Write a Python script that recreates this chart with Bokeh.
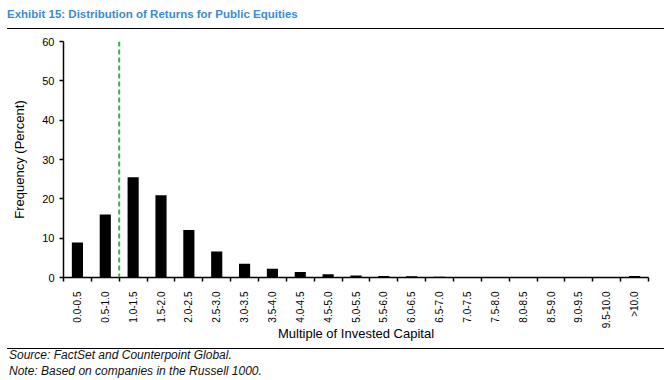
from bokeh.plotting import figure
from bokeh.models import Range1d, FixedTicker, Span, Div
from bokeh.layouts import column
from bokeh.embed import file_html
from bokeh.resources import INLINE

title_text = "Exhibit 15: Distribution of Returns for Public Equities"
source_text = "Source: FactSet and Counterpoint Global."
note_text = "Note: Based on companies in the Russell 1000."
x_label = "Multiple of Invested Capital"
y_label = "Frequency (Percent)"

categories = ["0.0-0.5", "0.5-1.0", "1.0-1.5", "1.5-2.0", "2.0-2.5", "2.5-3.0",
              "3.0-3.5", "3.5-4.0", "4.0-4.5", "4.5-5.0", "5.0-5.5", "5.5-6.0",
              "6.0-6.5", "6.5-7.0", "7.0-7.5", "7.5-8.0", "8.0-8.5", "8.5-9.0",
              "9.0-9.5", "9.5-10.0", ">10.0"]
frequency = [8.9, 16.0, 25.5, 20.9, 12.1, 6.6, 3.5, 2.2, 1.4, 0.8, 0.5,
             0.4, 0.3, 0.2, 0.15, 0.1, 0.1, 0.1, 0.1, 0.05, 0.4]
y_ticks = [0, 10, 20, 30, 40, 50, 60]
breakeven_multiple = "1.0-1.5"  # dashed line drawn at the lower edge of this bin

FONT = "Liberation Sans"
W = 664
HH, PH, FH = 34, 310, 36

rule = ("position:absolute;left:7px;width:657px;height:1.5px;"
        "background:#000;top:{}px;")
txt_css = ("position:absolute;left:{}px;top:{}px;white-space:nowrap;"
           "font-family:'Liberation Sans';line-height:{}px;font-size:{};"
           "color:{};font-weight:{};font-style:{};")

header_html = (
    f'<div style="position:relative;width:{W}px;height:{HH}px;">'
    f'<div style="{txt_css.format(7, 6.5, 14, "11.5px", "#3a8bd0", "bold", "normal")}">{title_text}</div>'
    f'<div style="{rule.format(27.8)}"></div></div>'
)
footer_html = (
    f'<div style="position:relative;width:{W}px;height:{FH}px;">'
    f'<div style="{rule.format(3.6)}"></div>'
    f'<div style="{txt_css.format(9, 5.2, 13, "12px", "#111", "normal", "italic")}">{source_text}</div>'
    f'<div style="{txt_css.format(9, 20.5, 13, "12px", "#111", "normal", "italic")}">{note_text}</div></div>'
)
header = Div(text=header_html, width=W, height=HH, margin=(0, 0, 0, 0))
footer = Div(text=footer_html, width=W, height=FH, margin=(0, 0, 0, 0))

# ---------- main chart ----------
n = len(categories)
xs = list(range(n))
p = figure(width=W, height=PH, x_range=Range1d(-0.5, n - 0.5),
           y_range=Range1d(0, 60), toolbar_location=None, output_backend="svg",
           min_border_left=63, min_border_right=16, min_border_top=7,
           min_border_bottom=66, margin=(0, 0, 0, 0))
p.outline_line_color = None
p.grid.visible = False

p.vbar(x=xs, top=frequency, width=0.4, fill_color="black", line_color=None)

bx = categories.index(breakeven_multiple) - 0.5
p.add_layout(Span(location=bx, dimension="height", line_color="#3fae4f",
                  line_width=2, line_dash="5 3"))

xa = p.xaxis[0]
xa.ticker = FixedTicker(ticks=xs, minor_ticks=[i - 0.5 for i in range(n + 1)])
xa.major_label_overrides = {i: c for i, c in zip(xs, categories)}
xa.major_label_orientation = 3.14159265 / 2
xa.major_tick_line_color = None
xa.major_tick_out = 0
xa.major_tick_in = 0
xa.minor_tick_out = 4
xa.minor_tick_in = 0
xa.minor_tick_line_color = "black"
xa.minor_tick_line_width = 1.5
xa.major_label_standoff = 10
xa.major_label_text_font = FONT
xa.major_label_text_font_size = "10px"
xa.major_label_text_color = "black"
xa.axis_label = x_label
xa.axis_label_text_font = FONT
xa.axis_label_text_font_size = "13px"
xa.axis_label_text_font_style = "normal"
xa.axis_label_text_color = "black"
xa.axis_label_standoff = -5

ya = p.yaxis[0]
ya.ticker = FixedTicker(ticks=y_ticks)
ya.major_tick_out = 4
ya.major_tick_in = 0
ya.minor_tick_line_color = None
ya.major_tick_line_width = 1.5
ya.major_label_text_font = FONT
ya.major_label_text_font_size = "11px"
ya.major_label_text_color = "black"
ya.major_label_standoff = 5
ya.axis_label = y_label
ya.axis_label_text_font = FONT
ya.axis_label_text_font_size = "13px"
ya.axis_label_text_font_style = "normal"
ya.axis_label_text_color = "black"
ya.axis_label_standoff = 12

for ax in (xa, ya):
    ax.axis_line_color = "black"
    ax.axis_line_width = 1.5

layout = column(header, p, footer, spacing=0)
open("out.html", "w").write(file_html(layout, INLINE))
